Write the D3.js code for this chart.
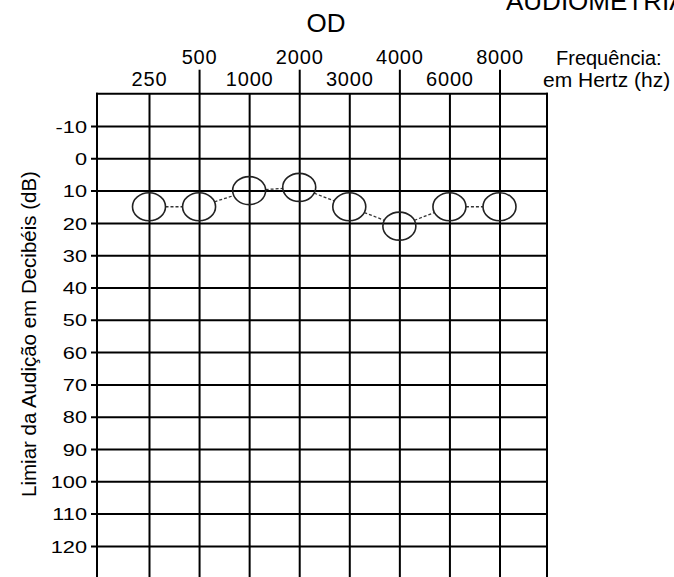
<!DOCTYPE html>
<html><head><meta charset="utf-8">
<script src="https://cdn.jsdelivr.net/npm/d3@7"></script>
<style>
body{margin:0;background:#fff}
svg{display:block}
text{font-family:"Liberation Sans",Arial,Helvetica,sans-serif;fill:#000}
</style>
</head><body>
<svg id="c" width="674" height="577"></svg>
<script>
// ---- data ----
const frequencies = ["250","500","1000","2000","3000","4000","6000","8000"];
const upperRowLabels = ["500","2000","4000","8000"];
const lowerRowLabels = ["250","1000","3000","6000"];
const dbTicks = [-10,0,10,20,30,40,50,60,70,80,90,100,110,120];
const thresholdOD = [15,15,10,9,15,21,15,15];
const yTitle = "Limiar da Audição em Decibéis (dB)";

// ---- layout ----
const svg = d3.select("#c");
const W = 674, H = 577;
const frameL = 97, frameR = 547, frameTop = 93.7;
const x = d3.scalePoint().domain(frequencies).range([149, 499.5]);
const y = d3.scaleLinear().domain([-20, 130]).range([frameTop, 578.2]);

// vertical grid lines (all frequencies)
const gV = svg.append("g").attr("transform", `translate(0,${frameTop})`)
  .call(d3.axisBottom(x).tickSize(H - frameTop).tickFormat(""));
gV.select(".domain").remove();
gV.selectAll("line").attr("stroke", "#000").attr("stroke-width", 2);

// frame left/right borders
[frameL, frameR].forEach(xx => {
  svg.append("line").attr("x1", xx).attr("x2", xx).attr("y1", frameTop - 1).attr("y2", H)
    .attr("stroke", "#000").attr("stroke-width", 2);
});
// top border
svg.append("line").attr("x1", frameL - 1).attr("x2", frameR + 1).attr("y1", frameTop).attr("y2", frameTop)
  .attr("stroke", "#000").attr("stroke-width", 2);

// horizontal grid lines + dB labels
const gY = svg.append("g").attr("transform", "translate(91,0)")
  .call(d3.axisLeft(y).tickValues(dbTicks).tickSize(-(frameR + 1 - 91)).tickPadding(4)
    .tickFormat(d => String(d)));
gY.select(".domain").remove();
gY.selectAll("line").attr("stroke", "#000").attr("stroke-width", 2);
gY.selectAll("text")
  .attr("x", null).attr("dy", "0.36em")
  .attr("transform", "translate(-4,0) scale(1.28,1)")
  .attr("font-size", 17).attr("font-family", null).attr("fill", "#000");
gY.attr("font-family", null).attr("font-size", null);

// top frequency labels - upper row (with tall ticks)
const gTop1 = svg.append("g").attr("transform", `translate(0,${frameTop})`)
  .call(d3.axisTop(x).tickValues(upperRowLabels).tickSize(24).tickPadding(6));
gTop1.select(".domain").remove();
gTop1.selectAll("line").attr("stroke", "#000").attr("stroke-width", 2);
gTop1.attr("font-family", null).attr("font-size", null);
gTop1.selectAll("text").attr("font-size", 20).attr("letter-spacing", 0.8).attr("fill", "#000");

// lower row labels
const gTop2 = svg.append("g").attr("transform", `translate(0,${frameTop})`)
  .call(d3.axisTop(x).tickValues(lowerRowLabels).tickSize(0).tickPadding(8));
gTop2.select(".domain").remove();
gTop2.attr("font-family", null).attr("font-size", null);
gTop2.selectAll("text").attr("font-size", 20).attr("letter-spacing", 0.8).attr("fill", "#000");

// titles
svg.append("text").attr("x", 326).attr("y", 31.5).attr("text-anchor", "middle")
  .attr("font-size", 26).text("OD");
svg.append("text").attr("x", 506).attr("y", 10)
  .attr("font-size", 26).text("AUDIOMETRIA");
svg.append("text").attr("x", 556).attr("y", 65)
  .attr("font-size", 20).text("Frequência:");
svg.append("text").attr("x", 543).attr("y", 87)
  .attr("font-size", 21).text("em Hertz (hz)");
svg.append("text").attr("transform", "translate(36,334) rotate(-90)")
  .attr("text-anchor", "middle").attr("font-size", 20.5).text(yTitle);

// data: connectors and circles
const rx = 16.5, ry = 14;
const pts = frequencies.map((f, i) => ({ f, v: thresholdOD[i], px: x(f), py: y(thresholdOD[i]) }));
const segs = d3.pairs(pts).map(([a, b]) => {
  const dx = b.px - a.px, dy = b.py - a.py;
  const t = 1 / Math.sqrt((dx / rx) ** 2 + (dy / ry) ** 2);
  return { x1: a.px + dx * t, y1: a.py + dy * t, x2: b.px - dx * t, y2: b.py - dy * t };
});
svg.append("g").selectAll("line").data(segs).join("line")
  .attr("x1", d => d.x1).attr("y1", d => d.y1).attr("x2", d => d.x2).attr("y2", d => d.y2)
  .attr("stroke", "#333").attr("stroke-width", 1.3).attr("stroke-dasharray", "3,2");
svg.append("g").selectAll("ellipse").data(pts).join("ellipse")
  .attr("cx", d => d.px).attr("cy", d => d.py).attr("rx", rx).attr("ry", ry)
  .attr("fill", "none").attr("stroke", "#222").attr("stroke-width", 1.6);
</script>
</body></html>
